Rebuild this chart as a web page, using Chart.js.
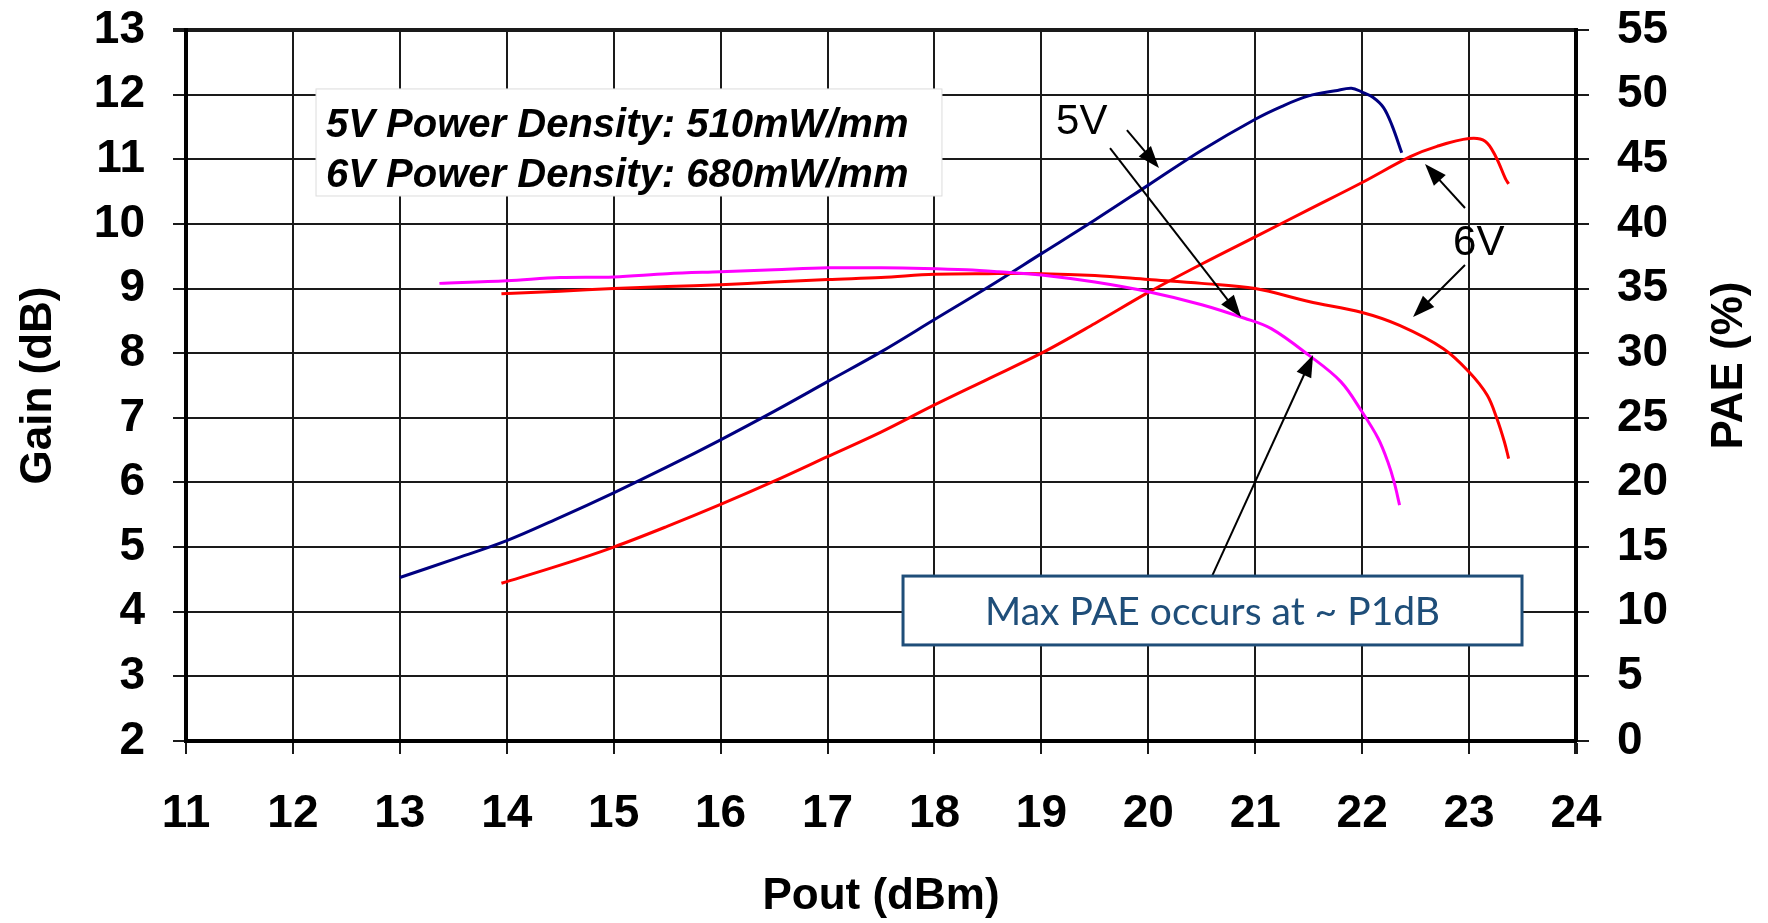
<!DOCTYPE html>
<html>
<head>
<meta charset="utf-8">
<title>Gain and PAE vs Pout</title>
<script src="https://cdn.jsdelivr.net/npm/chart.js@4.4.1/dist/chart.umd.min.js"></script>
<style>
  html, body { margin: 0; padding: 0; background: #fff; }
  #wrap { width: 1768px; height: 923px; }
</style>
</head>
<body>
<div id="wrap"><canvas id="chart" width="1768" height="923"></canvas></div>
<script>
// values, Pout in dBm
const pae5Pout = [13.0, 13.5, 14.0, 14.5, 15.0, 15.5, 16.0, 16.5, 17.0, 17.5, 18.0, 18.5, 19.0, 19.5, 20.0, 20.5, 21.0, 21.25, 21.5, 21.75, 21.9, 22.0, 22.1, 22.2, 22.28, 22.37];
const pae5 =     [12.65, 14.05, 15.5, 17.3, 19.2, 21.2, 23.3, 25.5, 27.8, 30.1, 32.6, 35.1, 37.7, 40.3, 43.0, 45.7, 48.1, 49.1, 49.9, 50.3, 50.5, 50.2, 49.8, 49.0, 47.6, 45.5];

const pae6Pout = [13.95, 14.5, 15.0, 15.5, 16.0, 16.5, 17.0, 17.5, 18.0, 18.5, 19.0, 19.5, 20.0, 20.5, 21.0, 21.5, 22.0, 22.45, 22.7, 23.0, 23.15, 23.25, 23.34, 23.37];
const pae6 =     [12.2, 13.6, 15.0, 16.6, 18.3, 20.1, 22.0, 23.9, 26.0, 28.0, 30.0, 32.3, 34.7, 36.9, 39.0, 41.1, 43.2, 45.2, 46.0, 46.6, 46.4, 45.2, 43.5, 43.1];

const gain5Pout = [13.37, 14.0, 14.5, 15.0, 15.5, 16.0, 16.5, 17.0, 17.5, 17.9, 18.3, 18.6, 19.0, 19.5, 20.0, 20.5, 20.9, 21.15, 21.5, 21.8, 22.0, 22.15, 22.24, 22.3, 22.35];
const gain5 =     [9.08, 9.12, 9.17, 9.18, 9.23, 9.26, 9.29, 9.32, 9.32, 9.31, 9.29, 9.26, 9.21, 9.1, 8.95, 8.75, 8.54, 8.38, 7.97, 7.56, 7.09, 6.68, 6.32, 6.0, 5.65];

const gain6Pout = [13.95, 14.5, 15.0, 15.5, 16.0, 16.5, 17.0, 17.5, 18.0, 18.5, 19.0, 19.5, 20.0, 20.5, 21.0, 21.5, 22.0, 22.35, 22.76, 23.0, 23.17, 23.26, 23.33, 23.37];
const gain6 =     [8.92, 8.96, 9.0, 9.03, 9.06, 9.1, 9.14, 9.17, 9.22, 9.23, 9.23, 9.2, 9.14, 9.08, 9.0, 8.8, 8.63, 8.43, 8.07, 7.71, 7.35, 6.99, 6.63, 6.37];

const poutTicks = [11, 24];   // x axis range
const gainTicks = [2, 13];    // left axis range
const paeTicks = [0, 55];     // right axis range

// notes, placed in (Pout, PAE) units
const densityLines = ['5V Power Density: 510mW/mm', '6V Power Density: 680mW/mm'];
const maxNote = 'Max PAE occurs at ~ P1dB';
const voltLabels = [['5V', 19.137, 46.95], ['6V', 22.85, 37.6]];
const noteArrows = [
  [19.80, 47.26, 20.10, 44.32],
  [19.642, 45.87, 20.867, 32.80],
  [22.962, 41.23, 22.588, 44.63],
  [22.962, 36.82, 22.476, 32.80],
  [20.596, 12.76, 21.541, 29.86]
];

const pts = (xs, ys) => xs.map((x, i) => ({ x: x, y: ys[i] }));

function arrow(ctx, x0, y0, x1, y1) {
  const a = Math.atan2(y1 - y0, x1 - x0);
  const len = 22, half = 8;
  ctx.beginPath();
  ctx.moveTo(x0, y0);
  ctx.lineTo(x1 - Math.cos(a) * len * 0.8, y1 - Math.sin(a) * len * 0.8);
  ctx.stroke();
  ctx.beginPath();
  ctx.moveTo(x1, y1);
  ctx.lineTo(x1 - len * Math.cos(a) + half * Math.sin(a), y1 - len * Math.sin(a) - half * Math.cos(a));
  ctx.lineTo(x1 - len * Math.cos(a) - half * Math.sin(a), y1 - len * Math.sin(a) + half * Math.cos(a));
  ctx.closePath();
  ctx.fill();
}

const notes = {
  id: 'notes',
  afterDatasetsDraw(chart) {
    const ctx = chart.ctx;
    const sx = chart.scales.x, sy = chart.scales.y1;
    const X = v => sx.getPixelForValue(v);
    const Y = v => sy.getPixelForValue(v);
    const area = chart.chartArea;
    ctx.save();

    // power density box
    const bx0 = X(12.216), bx1 = X(18.07), by0 = Y(50.44), by1 = Y(42.16);
    ctx.fillStyle = '#fff';
    ctx.fillRect(bx0, by0, bx1 - bx0, by1 - by0);
    ctx.strokeStyle = '#dcdcdc';
    ctx.lineWidth = 1;
    ctx.strokeRect(bx0, by0, bx1 - bx0, by1 - by0);
    ctx.fillStyle = '#000';
    ctx.font = 'italic bold 40px "Liberation Sans", Arial, sans-serif';
    ctx.textAlign = 'left';
    ctx.textBaseline = 'alphabetic';
    ctx.fillText(densityLines[0], X(12.31), Y(46.72));
    ctx.fillText(densityLines[1], X(12.31), Y(42.85));

    // 5V / 6V labels
    ctx.font = '42px "Liberation Sans", Arial, sans-serif';
    voltLabels.forEach(l => ctx.fillText(l[0], X(l[1]), Y(l[2])));

    // arrows
    ctx.strokeStyle = '#000';
    ctx.fillStyle = '#000';
    ctx.lineWidth = 2;
    noteArrows.forEach(a => arrow(ctx, X(a[0]), Y(a[1]), X(a[2]), Y(a[3])));

    // max PAE box
    const mx0 = X(17.706), mx1 = X(23.495), my0 = Y(12.76), my1 = Y(7.43);
    ctx.fillStyle = '#fff';
    ctx.fillRect(mx0, my0, mx1 - mx0, my1 - my0);
    ctx.strokeStyle = '#1F4E79';
    ctx.lineWidth = 3;
    ctx.strokeRect(mx0, my0, mx1 - mx0, my1 - my0);
    ctx.fillStyle = '#1F4E79';
    ctx.font = '39px Lato, "Open Sans", sans-serif';
    ctx.textAlign = 'center';
    ctx.fillText(maxNote, (mx0 + mx1) / 2, Y(8.97));

    // right axis title, reads bottom to top
    ctx.fillStyle = '#000';
    ctx.font = 'bold 44px "Liberation Sans", Arial, sans-serif';
    ctx.translate(sy.right - 38, (area.top + area.bottom) / 2 - 20);
    ctx.rotate(-Math.PI / 2);
    ctx.textAlign = 'center';
    ctx.textBaseline = 'middle';
    ctx.fillText('PAE (%)', 0, 0);
    ctx.restore();
  }
};

const tickFont = { family: '"Liberation Sans", Arial, sans-serif', size: 46, weight: 'bold' };
const titleFont = { family: '"Liberation Sans", Arial, sans-serif', size: 44, weight: 'bold' };
const line = (label, data, color, axis) => ({
  label: label, data: data, yAxisID: axis,
  borderColor: color, borderWidth: 3, pointRadius: 0, tension: 0.35, fill: false
});

new Chart(document.getElementById('chart'), {
  type: 'line',
  data: {
    datasets: [
      line('5V Gain', pts(gain5Pout, gain5), '#FF00FF', 'y'),
      line('6V Gain', pts(gain6Pout, gain6), '#FF0000', 'y'),
      line('5V PAE', pts(pae5Pout, pae5), '#000080', 'y1'),
      line('6V PAE', pts(pae6Pout, pae6), '#FF0000', 'y1')
    ]
  },
  options: {
    responsive: false,
    animation: false,
    layout: { padding: { top: 30 } },
    plugins: { legend: { display: false }, tooltip: { enabled: false } },
    scales: {
      x: {
        type: 'linear', min: poutTicks[0], max: poutTicks[1],
        afterFit(s) { s.height = 182; s.paddingLeft = 0; s.paddingRight = 0; },
        ticks: { stepSize: 1, color: '#000', font: tickFont, padding: 33, maxRotation: 0 },
        grid: {
          color: '#1a1a1a', tickColor: '#1a1a1a', tickLength: 13,
          lineWidth: c => (c.tick && c.tick.value === poutTicks[1]) ? 4 : 2
        },
        border: { color: '#000', width: 4 },
        title: { display: true, text: 'Pout (dBm)', color: '#000', font: titleFont, padding: 0 }
      },
      y: {
        position: 'left', min: gainTicks[0], max: gainTicks[1],
        afterFit(s) { s.width = 186; s.paddingTop = 0; s.paddingBottom = 0; },
        ticks: { stepSize: 1, color: '#000', font: tickFont, padding: 28 },
        grid: {
          color: '#1a1a1a', tickColor: '#1a1a1a', tickLength: 13,
          lineWidth: c => (c.tick && c.tick.value === gainTicks[1]) ? 4 : 2
        },
        border: { color: '#000', width: 4 },
        title: { display: true, text: 'Gain (dB)', color: '#000', font: titleFont, padding: 12 }
      },
      y1: {
        position: 'right', min: paeTicks[0], max: paeTicks[1],
        afterFit(s) { s.width = 192; s.paddingTop = 0; s.paddingBottom = 0; },
        ticks: { stepSize: 5, color: '#000', font: tickFont, padding: 28 },
        grid: { drawOnChartArea: false, tickColor: '#1a1a1a', tickLength: 13, lineWidth: 2 },
        border: { color: '#000', width: 4 }
      }
    }
  },
  plugins: [notes]
});
</script>
</body>
</html>
